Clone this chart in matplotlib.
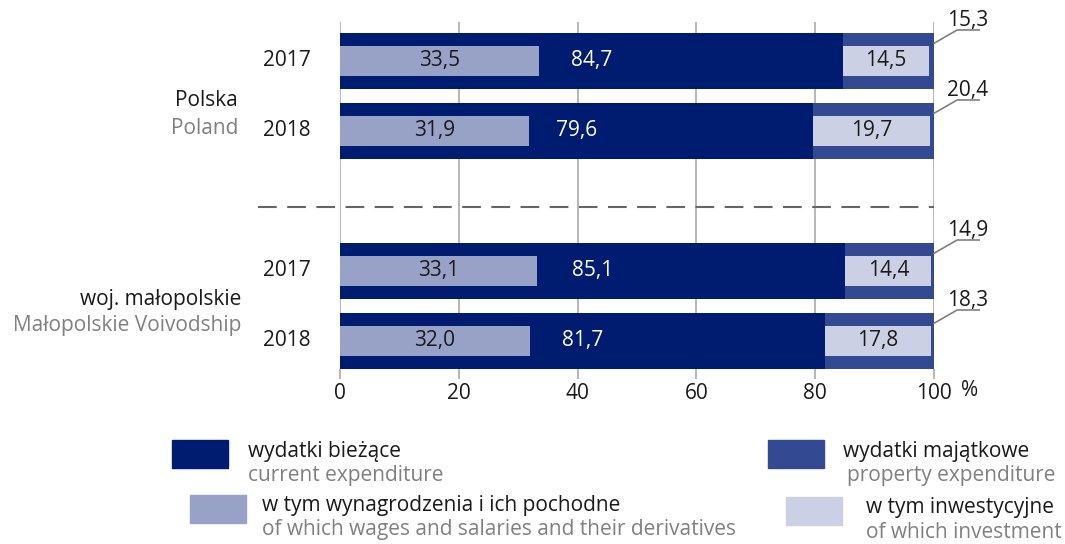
import matplotlib
matplotlib.use("Agg")
import matplotlib.pyplot as plt
from matplotlib.patches import Rectangle

plt.rcParams['font.family'] = ['Open Sans', 'DejaVu Sans']

# data
years = ['2017', '2018', '2017', '2018']
current = [84.7, 79.6, 85.1, 81.7]      # wydatki bieżące
wages = [33.5, 31.9, 33.1, 32.0]        # w tym wynagrodzenia
prop = [15.3, 20.4, 14.9, 18.3]         # wydatki majątkowe
invest = [14.5, 19.7, 14.4, 17.8]       # w tym inwestycyjne
ticks = [0, 20, 40, 60, 80, 100]

C_CUR = '#001c71'
C_PROP = '#334a92'
C_WAGE = '#98a2c6'
C_INV = '#cbd0e4'
BLACK = '#1a1a1a'
GREY = '#808080'
FS = 15

pos = [0, 1, 3, 4]
H = 0.786
h = 0.44


def fmt(v):
    return f"{v:.1f}".replace('.', ',')


fig = plt.figure(figsize=(10.65, 5.44), dpi=100)
ax = fig.add_axes([340 / 1065, 1 - 369 / 544, 594 / 1065, 347 / 544])

ax.barh(pos, current, height=H, color=C_CUR, zorder=2)
ax.barh(pos, prop, left=current, height=H, color=C_PROP, zorder=2)
ax.barh(pos, wages, height=h, color=C_WAGE, zorder=3)
ax.barh(pos, invest, left=current, height=h, color=C_INV, zorder=3)

for y, c, w, p, iv, yr in zip(pos, current, wages, prop, invest, years):
    ax.text(w / 2, y, fmt(w), ha='center', va='center', fontsize=FS, color=BLACK, zorder=4)
    ax.text(c / 2, y, fmt(c), ha='center', va='center', fontsize=FS, color='white', zorder=4)
    ax.text(c + iv / 2, y, fmt(iv), ha='center', va='center', fontsize=FS, color=BLACK, zorder=4)
    # leader line for property value
    top = y - H / 2
    ax.plot([100, 103.9, 107.6], [top + 0.14, top - 0.05, top - 0.05],
            color='#808080', lw=1.2, clip_on=False, zorder=4)
    ax.text(105.6, top - 0.03, fmt(p), ha='center', va='bottom',
            fontsize=FS, color=BLACK, clip_on=False)
    ax.text(-5, y, yr, ha='right', va='center', fontsize=FS, color=BLACK)

ax.set_xlim(0, 100)
ax.set_ylim(4.4, -0.557)
ax.set_yticks([])
ax.set_xticks(ticks)
ax.set_xticklabels([str(t) for t in ticks])
ax.tick_params(axis='x', length=7, width=1.2, color='#aaaaaa', labelsize=FS,
               labelcolor=BLACK, pad=3)
ax.text(106.0, 4.71, '%', ha='center', va='center', fontsize=FS, color=BLACK, clip_on=False)
for s in ax.spines.values():
    s.set_visible(False)
ax.grid(axis='x', color='#aaaaaa', lw=1.2, zorder=0)
ax.set_axisbelow(True)

# separator
ax.plot([-13.8, 100], [2.086, 2.086], color='#666666', lw=1.5,
        dashes=(9, 5), clip_on=False, zorder=1)

# group labels
fig.text(238 / 1065, 1 - 101 / 544, 'Polska', ha='right', va='center', fontsize=FS, color=BLACK)
fig.text(238 / 1065, 1 - 128 / 544, 'Poland', ha='right', va='center', fontsize=FS, color=GREY)
fig.text(241 / 1065, 1 - 300 / 544, 'woj. małopolskie', ha='right', va='center', fontsize=FS, color=BLACK)
fig.text(241 / 1065, 1 - 326 / 544, 'Małopolskie Voivodship', ha='right', va='center', fontsize=FS, color=GREY)

# legend
legend = [
    (172, 440, C_CUR, 248, 248, 'wydatki bieżące', 'current expenditure'),
    (190, 495, C_WAGE, 262, 262, 'w tym wynagrodzenia i ich pochodne',
     'of which wages and salaries and their derivatives'),
    (768, 440, C_PROP, 843, 847, 'wydatki majątkowe', 'property expenditure'),
    (786, 497, C_INV, 866, 866, 'w tym inwestycyjne', 'of which investment'),
]
for bx, by, col, tx1, tx2, pl, en in legend:
    fig.add_artist(Rectangle((bx / 1065, 1 - (by + 28) / 544), 56 / 1065, 28 / 544,
                             transform=fig.transFigure, color=col))
    fig.text(tx1 / 1065, 1 - (by + 11) / 544, pl, ha='left', va='center', fontsize=FS, color=BLACK)
    fig.text(tx2 / 1065, 1 - (by + 35) / 544, en, ha='left', va='center', fontsize=FS, color=GREY)

fig.savefig('out.png', dpi=100)
